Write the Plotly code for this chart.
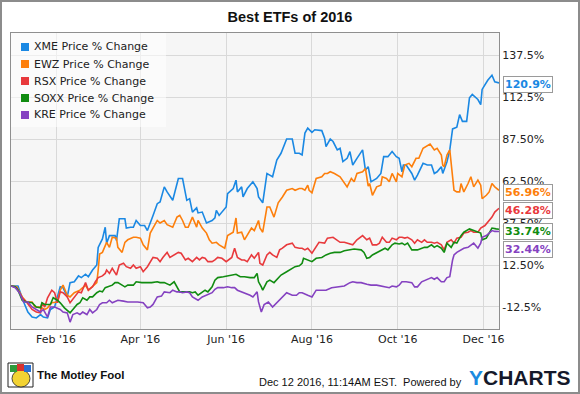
import pandas as pd
import plotly.graph_objects as go

# ---------------- data (calendar-day offsets from 2015-12-31, % change) ----------------
start_date = "2015-12-31"
end_date = "2016-12-12"

series_names = ["XME Price % Change", "EWZ Price % Change", "RSX Price % Change",
                "SOXX Price % Change", "KRE Price % Change"]
series_colors = ["#1a88e3", "#fd7f0c", "#e8393c", "#118c11", "#8542c1"]
last_labels = ["120.9%", "56.96%", "46.28%", "33.74%", "32.44%"]

xme_days = [0, 5, 9, 12, 15, 18, 21, 23, 26, 28, 31, 35, 37, 40, 42, 45, 48, 50, 53, 55, 58, 61, 62, 65, 67, 68, 70,
            74, 75, 77, 81, 82, 85, 87, 89, 92, 95, 97, 101, 104, 106, 109, 111, 115, 119, 122, 125, 127, 129, 132,
            133, 136, 139, 143, 145, 146, 148, 153, 154, 158, 160, 161, 164, 165, 168, 172, 175, 176, 179, 182, 184,
            186, 189, 192, 196, 200, 202, 205, 207, 209, 211, 214, 216, 221, 223, 224, 227, 229, 232, 234, 236, 239,
            241, 243, 246, 250, 252, 254, 256, 260, 263, 265, 268, 271, 274, 276, 278, 279, 281, 285, 287, 289, 293,
            296, 299, 301, 303, 306, 307, 310, 312, 314, 317, 319, 321, 324, 326, 328, 332, 334, 335, 339, 342, 344, 347]
xme_vals = [0, 0, -9.5, -15.5, -18.5, -19, -17, -18.5, -19, -14, -12.5, -0.5, -1, -6.5, 2, 2.5, 6, 5, 7, 5.5, 9.5, 12.5,
            23, 28, 35, 25.5, 30, 30, 27, 40, 40, 34.5, 35, 35, 39, 36, 36, 33, 42, 49, 50, 59, 56, 51, 64, 64, 51, 52,
            44, 46.5, 43.5, 44, 37.5, 39, 40.5, 45, 42, 47, 55, 58, 63, 56, 59, 53, 58, 62, 58, 53, 49.5, 67, 66, 65,
            75, 79, 87.5, 87.5, 79, 79, 78, 91, 94, 91.5, 93, 92.5, 88, 83, 87.5, 86, 81, 82, 74, 76, 80, 72, 76, 81,
            69, 71, 62, 64, 67, 77, 77, 80, 77, 76, 68, 72, 72, 67, 63, 66, 73, 72, 72, 67, 68, 71, 67, 74, 81, 93.5,
            94.5, 102, 98, 98, 112, 114, 111, 108, 117, 122.5, 125.5, 121.5, 120.9]

ewz_days = [0, 4, 8, 11, 15, 17, 21, 24, 26, 29, 33, 35, 37, 40, 42, 45, 49, 53, 55, 58, 61, 62, 63, 65, 68, 70, 72,
            75, 76, 79, 81, 83, 87, 89, 92, 94, 97, 99, 101, 104, 106, 109, 111, 115, 118, 120, 122, 124, 126, 129,
            132, 133, 136, 139, 141, 143, 146, 148, 152, 154, 158, 160, 161, 164, 166, 168, 171, 173, 176, 177, 179,
            182, 184, 187, 190, 193, 196, 200, 202, 205, 207, 209, 211, 212, 214, 217, 221, 223, 225, 227, 230, 234,
            237, 239, 242, 244, 246, 250, 252, 254, 255, 257, 260, 263, 264, 267, 269, 271, 274, 275, 278, 280, 283,
            285, 288, 290, 293, 295, 298, 301, 303, 306, 307, 308, 310, 312, 314, 315, 317, 319, 320, 322, 325, 327,
            329, 332, 334, 335, 338, 340, 342, 344, 347]
ewz_vals = [0, -0.5, -6.5, -9.5, -9.5, -12.5, -12.5, -14, -13, -10, -9.5, -2.5, 0.5, -5.5, -6.5, -4, -2.5, 0.5, -2.5,
            -0.5, 2, 9.5, 19, 20, 26, 23, 29, 28.5, 23, 20, 26, 27.5, 29, 29, 28.5, 24.5, 21.5, 31.5, 34.5, 39, 37.5,
            39, 36.5, 35, 41, 42, 39, 35, 35, 41, 35, 39, 34.5, 31.5, 27.5, 25.5, 26, 24.5, 22.5, 30, 32, 40.5, 31.5,
            32, 27.5, 30, 34.5, 33, 39, 34.5, 32, 47, 47, 41, 49.5, 53, 57, 58, 57, 58, 58, 57, 60, 57, 55.5, 64, 65,
            67, 67, 68, 67, 65, 61, 59, 64, 62, 67, 68, 70, 59.5, 61, 54, 59, 60, 65, 64, 62, 67, 62, 67, 65, 72, 73,
            71, 76, 76, 82, 83, 84.5, 81, 82, 78, 72, 71, 78, 81, 67, 57, 56, 56, 61, 56, 61, 65, 59, 63, 60, 52, 54,
            56, 61, 59, 56.96]

rsx_days = [0, 4, 8, 11, 15, 18, 21, 22, 24, 26, 29, 31, 33, 35, 37, 40, 42, 45, 48, 50, 53, 55, 58, 60, 62, 65, 67,
            68, 70, 72, 75, 77, 80, 82, 85, 87, 89, 92, 94, 97, 99, 101, 104, 106, 108, 111, 113, 116, 119, 121, 124,
            126, 129, 132, 134, 136, 138, 140, 143, 145, 147, 150, 153, 157, 159, 161, 164, 166, 168, 171, 173, 176,
            177, 179, 182, 184, 186, 189, 191, 193, 196, 200, 202, 205, 207, 209, 211, 214, 217, 219, 223, 225, 229,
            232, 234, 237, 239, 243, 246, 248, 250, 253, 255, 257, 260, 262, 264, 267, 269, 271, 274, 276, 278, 280,
            282, 285, 287, 289, 292, 294, 296, 299, 301, 303, 306, 308, 310, 313, 315, 317, 320, 322, 325, 327, 329,
            332, 334, 337, 339, 342, 344, 347]
rsx_vals = [0, -1, -7, -9.5, -14, -15.5, -16, -10, -12.5, -7, -2.5, -4, -10, -3.5, -4, -6.5, -10, -7, -3.5, -4, 2,
            -2.5, -0.5, 2.5, 5, 6, 7.5, 9.5, 7.5, 10.5, 6.5, 12.5, 13.5, 11.5, 10.5, 12.5, 10.5, 11.5, 8.5, 11.5, 14.5,
            17, 16.5, 14.5, 17, 20, 17, 18.5, 20, 19.5, 15.5, 16.5, 14.5, 17, 15.5, 17, 16.5, 14.5, 14.5, 15.5, 17,
            16.5, 14.5, 17, 22.5, 17, 15.5, 15.5, 14.5, 18.5, 16.5, 20, 13.5, 12.5, 18.5, 20, 18.5, 17, 21.5, 22.5,
            24.5, 25.5, 23, 22.5, 22.5, 21.5, 22.5, 19.5, 23, 26, 25.5, 28.5, 29, 27.5, 26, 26, 25.5, 24.5, 27.5, 28.5,
            30, 27.5, 28.5, 24.5, 24.5, 25.5, 29, 26, 26, 28.5, 27.5, 29, 29, 28.5, 29, 27.5, 25.5, 27.5, 26, 27.5, 26,
            26, 25.5, 26, 24.5, 21.5, 26, 27.5, 25.5, 28.5, 29, 31.5, 32, 33, 32, 32, 34.5, 36, 38, 41, 44, 46.28]

soxx_days = [0, 3, 5, 8, 11, 15, 18, 21, 22, 24, 28, 30, 33, 35, 38, 42, 44, 47, 49, 51, 54, 56, 58, 61, 63, 65, 67,
             69, 72, 74, 76, 79, 81, 83, 87, 89, 93, 97, 100, 104, 106, 109, 113, 116, 118, 120, 124, 127, 129, 131,
             133, 136, 138, 140, 143, 145, 147, 151, 154, 158, 160, 163, 166, 170, 173, 175, 176, 178, 179, 182, 184,
             187, 190, 192, 196, 200, 202, 205, 207, 208, 211, 214, 217, 221, 224, 227, 230, 234, 237, 241, 244, 249,
             251, 253, 255, 257, 260, 263, 266, 268, 271, 273, 276, 278, 280, 282, 285, 289, 292, 294, 296, 299, 301,
             303, 306, 308, 310, 313, 315, 317, 320, 322, 326, 329, 333, 334, 335, 338, 340, 342, 345, 347]
soxx_vals = [0, -0.5, -2.5, -8.5, -9.5, -10, -12.5, -13, -10, -11, -11, -7, -8.5, -10, -13, -16, -14, -11, -10, -7,
             -8.5, -6.5, -6.5, -4, -3, -3.5, -1, -0.5, 0.5, 2, 2, 0.5, -0.5, 0.5, 0.5, 2.5, 2, 2, 2, 2.5, 2, 2, 0.5,
             2.5, -0.5, -3.5, -3.5, -3.5, -4, -3.5, -5.5, -4, -2.5, -3.5, -0.5, 3.5, 5, 5.5, 6, 6.5, 7, 5.5, 5.5, 5, 5,
             7.5, 2.5, -0.5, -2.5, 2.5, 3.5, 2, 5, 6.5, 8.5, 10.5, 11.5, 12, 13.5, 16.5, 15.5, 14.5, 16.5, 17, 18.5,
             19.5, 20, 20, 21, 21.5, 22, 21.5, 20, 16.5, 17, 18.5, 20, 21.5, 22.5, 21.5, 24.5, 25.5, 25, 25.5, 24.5,
             25.5, 21.5, 21.5, 22.5, 23, 23, 24.5, 23, 24, 22.5, 20, 25.5, 23, 26, 25.5, 30, 32, 34, 33, 32, 31.5,
             27.5, 28.5, 31.5, 34.5, 34, 33.74]

kre_days = [0, 3, 6, 9, 12, 15, 18, 21, 23, 26, 28, 31, 35, 37, 40, 42, 44, 47, 49, 51, 54, 56, 58, 61, 63, 65, 68,
            70, 72, 76, 80, 83, 87, 90, 94, 97, 99, 101, 104, 107, 109, 113, 115, 118, 120, 122, 125, 127, 129, 133,
            136, 139, 143, 145, 147, 151, 154, 157, 159, 161, 164, 166, 170, 172, 175, 176, 178, 180, 183, 186, 189,
            191, 193, 196, 200, 203, 205, 207, 211, 214, 217, 221, 224, 228, 232, 237, 241, 243, 246, 249, 253, 256,
            260, 263, 267, 269, 271, 274, 276, 278, 281, 285, 287, 289, 292, 295, 299, 301, 303, 306, 308, 310, 312,
            314, 315, 317, 320, 322, 325, 327, 329, 332, 334, 335, 338, 340, 342, 344, 347]
kre_vals = [0, -1, -4, -9.5, -9.5, -12.5, -14, -15.5, -14, -18.5, -12.5, -12.5, -14, -15.5, -16, -21.5, -17, -16, -17,
            -15.5, -17, -14, -16, -14, -11, -10, -10, -8.5, -10, -8.5, -9, -9.5, -9.5, -9.5, -10, -13, -12.5, -11,
            -6.5, -6, -3.5, -4, -2.5, -3.5, -3.5, -4, -3.5, -4, -6.5, -8.5, -6.5, -5.5, -4, -2, -1, -1, -0.5, -1, -1,
            -2.5, -3.5, -4, -5.5, -6.5, -3.5, -9.5, -15.5, -11, -9.5, -12.5, -10, -8.5, -6.5, -4, -5.5, -5.5, -4, -4,
            -5.5, -6.5, -2.5, -2.5, -2.5, -1, -0.5, 0, 2, 2.5, 2, 2, 1, 0.5, 0.5, 0, -0.5, -1, 0, -0.5, 0.5, 2.5,
            2.5, 2, -0.5, -0.5, 2.5, 3.5, 5, 4, 5, 2.5, 2.5, 5, 5.5, 15.5, 18.5, 20, 21.5, 22.5, 23, 24.5, 25.5, 22.5,
            25.5, 29, 30, 31.5, 33, 32.5, 32.44]

all_days = [xme_days, ewz_days, rsx_days, soxx_days, kre_days]
all_vals = [xme_vals, ewz_vals, rsx_vals, soxx_vals, kre_vals]

ytick_vals = [-12.5, 12.5, 37.5, 62.5, 87.5, 112.5, 137.5]
ytick_text = ["-12.5%", "12.50%", "37.50%", "62.50%", "87.50%", "112.5%", "137.5%"]
xtick_dates = ["2016-02-01", "2016-04-01", "2016-06-01", "2016-08-01", "2016-10-01", "2016-12-01"]
xtick_text = ["Feb '16", "Apr '16", "Jun '16", "Aug '16", "Oct '16", "Dec '16"]

title_text = "Best ETFs of 2016"
footer_text = "Dec 12 2016, 11:14AM EST.  Powered by"

# ---------------- layout geometry ----------------
W, H = 580, 394
L, R, T, B = 11, 81, 33, 65
PW, PH = W - L - R, H - T - B
Y_RANGE = [-25.6, 150.6]
FONT = "DejaVu Sans, Verdana, sans-serif"
SANS = "Liberation Sans, Arial, sans-serif"


def xp(px):
    return (px - L) / PW


def yp(py):
    return (H - B - py) / PH


base = pd.Timestamp(start_date)
fig = go.Figure()
for name, color, days, vals in zip(series_names, series_colors, all_days, all_vals):
    dates = base + pd.to_timedelta(days, unit="D")
    fig.add_trace(go.Scatter(x=dates, y=vals, mode="lines", name=name,
                             line=dict(color=color, width=1.6), showlegend=False,
                             hoverinfo="skip"))

shapes = []
annotations = []

# custom legend box
shapes.append(dict(type="rect", xref="paper", yref="paper", x0=0, x1=xp(166), y0=yp(127), y1=1,
                   fillcolor="rgba(255,255,255,0.55)", line=dict(width=0), layer="above"))
for i, (name, color) in enumerate(zip(series_names, series_colors)):
    cy = 47 + i * 17
    shapes.append(dict(type="rect", xref="paper", yref="paper", x0=xp(21), x1=xp(29),
                       y0=yp(cy + 4), y1=yp(cy - 4), fillcolor=color, line=dict(width=0), layer="above"))
    annotations.append(dict(text=name, xref="paper", yref="paper", x=xp(32), y=yp(cy),
                            xanchor="left", yanchor="middle", showarrow=False,
                            font=dict(family=FONT, size=11, color="#222")))

# last-value labels with simple collision avoidance (in pixels)
px_per_unit = PH / (Y_RANGE[1] - Y_RANGE[0])
order = sorted(range(len(series_names)), key=lambda k: -all_vals[k][-1])
prev = None
for k in order:
    v = all_vals[k][-1]
    ypix = (Y_RANGE[1] - v) * px_per_unit
    lab = ypix + 2
    if prev is not None and lab < prev + 18:
        lab = prev + 18
    prev = lab
    annotations.append(dict(text="<b>%s</b>" % last_labels[k], xref="paper", yref="y", x=1, y=v,
                            xanchor="left", yanchor="middle", xshift=4, yshift=-(lab - ypix),
                            showarrow=False, bgcolor="white", bordercolor="#9a9a9a", borderwidth=1,
                            borderpad=1, font=dict(family=FONT, size=11, color=series_colors[k])))

# footer
annotations.append(dict(text=footer_text, xref="paper", yref="paper", x=xp(464), y=yp(382),
                        xanchor="right", yanchor="middle", showarrow=False,
                        font=dict(family=SANS, size=11, color="#111")))
annotations.append(dict(text='<b><span style="color:#1b8ae0">Y</span>CHARTS</b>', xref="paper", yref="paper",
                        x=xp(467), y=yp(377), xanchor="left", yanchor="middle", showarrow=False,
                        font=dict(family=SANS, size=21, color="#15192b")))
annotations.append(dict(text="<b>The Motley Fool</b>", xref="paper", yref="paper", x=xp(35), y=yp(375),
                        xanchor="left", yanchor="middle", showarrow=False,
                        font=dict(family=SANS, size=11.5, color="#111")))

# Motley Fool logo approximation
shapes += [
    dict(type="rect", xref="paper", yref="paper", x0=xp(8), x1=xp(33), y0=yp(387), y1=yp(363),
         fillcolor="white", line=dict(color="#222", width=1)),
    dict(type="circle", xref="paper", yref="paper", x0=xp(12), x1=xp(30), y0=yp(387), y1=yp(370),
         fillcolor="#f3d332", line=dict(color="#222", width=0.8)),
    dict(type="rect", xref="paper", yref="paper", x0=xp(10), x1=xp(17), y0=yp(372), y1=yp(365),
         fillcolor="#2e9a3a", line=dict(width=0)),
    dict(type="rect", xref="paper", yref="paper", x0=xp(17), x1=xp(24), y0=yp(371), y1=yp(364),
         fillcolor="#d8322e", line=dict(width=0)),
    dict(type="rect", xref="paper", yref="paper", x0=xp(24), x1=xp(31), y0=yp(372), y1=yp(365),
         fillcolor="#2a6fd0", line=dict(width=0)),
]

# outer border
shapes.append(dict(type="rect", xref="paper", yref="paper", x0=xp(1), x1=xp(579), y0=yp(393), y1=yp(1),
                   line=dict(color="#8c8c8c", width=2), fillcolor="rgba(0,0,0,0)"))

fig.update_layout(
    width=W, height=H,
    margin=dict(l=L, r=R, t=T, b=B),
    paper_bgcolor="white", plot_bgcolor="#f6f6f6",
    title=dict(text="<b>%s</b>" % title_text, x=0.5, xref="container", xanchor="center",
               y=1 - 17 / H, yref="container", yanchor="middle",
               font=dict(family=SANS, size=14.5, color="#111")),
    xaxis=dict(type="date", range=[start_date, end_date], tickvals=xtick_dates, ticktext=xtick_text,
               showgrid=True, gridcolor="#d9d9d9", gridwidth=1, zeroline=False,
               showline=True, linecolor="#8f8f8f", linewidth=1, mirror=True, ticks="",
               tickfont=dict(family=FONT, size=11, color="#222"), automargin=False),
    yaxis=dict(range=Y_RANGE, side="right", tickvals=ytick_vals, ticktext=ytick_text,
               showgrid=True, gridcolor="#d9d9d9", gridwidth=1, zeroline=False,
               showline=True, linecolor="#8f8f8f", linewidth=1, mirror=True, ticks="",
               tickfont=dict(family=FONT, size=11, color="#222"), automargin=False),
    showlegend=False,
    shapes=shapes,
    annotations=annotations,
)

fig.write_html("out.html", config={"displayModeBar": False},
               post_script="document.body.style.margin='0';document.body.style.overflow='hidden';")
